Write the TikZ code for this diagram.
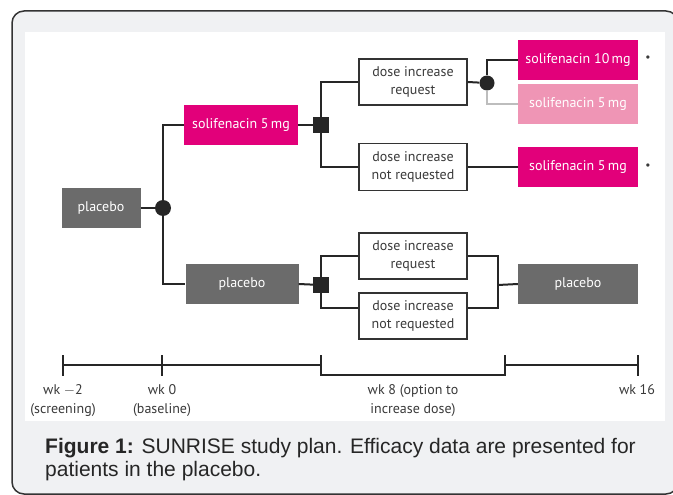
\documentclass[tikz,border=0pt]{standalone}
\usepackage{fontspec}
\setmainfont{Liberation Sans}
\newfontfamily\boxfont{PT Sans}

\definecolor{panelgray}{HTML}{F0F1F3}
\definecolor{framegray}{HTML}{333333}
\definecolor{solimag}{HTML}{E2007A}
\definecolor{solipale}{HTML}{EF95B5}
\definecolor{placgray}{HTML}{6B6B6B}
\definecolor{linegray}{HTML}{262626}
\definecolor{palelink}{HTML}{BDBDBD}
\definecolor{textgray}{HTML}{3A3A3A}

\tikzset{
  armbox/.style={inner sep=0, text=white, minimum height=40,
    font=\boxfont\fontsize{14}{16}\selectfont},
  drugbox/.style={armbox, fill=solimag, minimum width=114},
  palebox/.style={armbox, fill=solipale, minimum width=120},
  placebobox/.style={armbox, fill=placgray},
  choicebox/.style={draw=framegray, line width=1.4, fill=white, inner sep=0,
    text=textgray, align=center, minimum width=108, minimum height=46,
    font=\boxfont\fontsize{14}{18}\selectfont},
  junction/.style={circle, fill=linegray, inner sep=0, minimum size=16},
  splitter/.style={rectangle, fill=linegray, inner sep=0, minimum size=16},
  link/.style={draw=linegray, line width=2},
  palelinkstyle/.style={draw=palelink, line width=2},
  weeklabel/.style={text=textgray, align=center, inner sep=0,
    font=\boxfont\fontsize{14}{19}\selectfont},
}

\begin{document}
\begin{tikzpicture}[x=1pt, y=-1pt]
  \useasboundingbox (0,0) rectangle (673,495);
  \clip (0,0) rectangle (673,495);

  % frame and white panel
  \draw[framegray, fill=panelgray, line width=1.5, rounded corners=12]
    (12,11) rectangle (678,494);
  \fill[white] (25,32) rectangle (665,421);

  % arms
  \node[placebobox, minimum width=79] (plaL) at (101,208) {placebo};
  \node[junction] (junA) at (163,208) {};
  \node[drugbox] (soliA) at (241,125) {solifenacin 5\,mg};
  \node[placebobox, minimum width=113] (plaM) at (242,284) {placebo};
  \node[splitter] (sqA) at (321,125) {};
  \node[splitter] (sqB) at (321,285) {};

  \node[choicebox] (reqA) at (413,82) {dose increase\\request};
  \node[choicebox, minimum height=47] (notA) at (413,167) {dose increase\\not requested};
  \node[choicebox] (reqB) at (413,256) {dose increase\\request};
  \node[choicebox] (notB) at (413,316) {dose increase\\not requested};

  \node[junction, minimum size=15] (junB) at (487,83) {};
  \node[drugbox, minimum width=120] (sol10) at (578,60) {solifenacin 10\,mg};
  \node[palebox] (sol5L) at (578,104) {solifenacin 5\,mg};
  \node[drugbox, minimum width=120] (sol5B) at (578,167) {solifenacin 5\,mg};
  \node[placebobox, minimum width=120] (plaR) at (578,284) {placebo};
  \coordinate (mergeB) at (498,285);

  \node[text=textgray, font=\fontsize{12}{12}\selectfont] (dotA) at (648,59) {\textbullet};
  \node[text=textgray, font=\fontsize{12}{12}\selectfont] (dotB) at (648,167) {\textbullet};

  % connectors
  \draw[link] (plaL.east) -- (junA);
  \draw[link] (junA) |- (soliA.west);
  \draw[link] (junA) |- (plaM.west);
  \draw[link] (soliA.east) -- (sqA);
  \draw[link] (sqA) |- (reqA.west);
  \draw[link] (sqA) |- (notA.west);
  \draw[link] (reqA.east) -- (junB);
  \draw[palelinkstyle] (junB) |- (sol5L.west);
  \draw[link] (junB) |- (sol10.west);
  \draw[link] (notA.east) -- (sol5B.west);
  \draw[link] (plaM.east) -- (sqB);
  \draw[link] (sqB) |- (reqB.west);
  \draw[link] (sqB) |- ([yshift=8pt]notB.west);
  \draw[link] (reqB.east) -| (mergeB) |- ([yshift=8pt]notB.east);
  \draw[link] (mergeB) -- (plaR.west);

  % timeline
  \foreach \name/\x in {wkA/63, wkB/162, wkC/321, wkD/505, wkE/638}
    \coordinate (\name) at (\x,365);
  \draw[link] (wkA) -- (wkC);
  \draw[link] (wkD) -- (wkE);
  \draw[link] ([yshift=10pt]wkC) -- ([yshift=-10pt]wkC)
    -- ([yshift=-10pt]wkD) -- ([yshift=10pt]wkD);
  \foreach \name in {wkA, wkB, wkE}
    \draw[link] ([yshift=10pt]\name) -- ([yshift=-11pt]\name);

  \node[weeklabel, anchor=north] (labA) at (63,384) {wk $-$2\\(screening)};
  \node[weeklabel, anchor=north] (labB) at (162,384) {wk 0\\(baseline)};
  \node[weeklabel, anchor=north] (labC) at (413,384) {wk 8 (option to\\increase dose)};
  \node[weeklabel, anchor=north] (labE) at (637,384) {wk 16};

  % caption
  \node[anchor=base west, align=left, inner sep=0, text=linegray,
    font=\fontsize{21}{22.5}\selectfont] (caption) at (45,476)
    {\textbf{Figure 1:} SUNRISE study plan. Efficacy data are presented for\\
     patients in the placebo.};
\end{tikzpicture}
\end{document}
